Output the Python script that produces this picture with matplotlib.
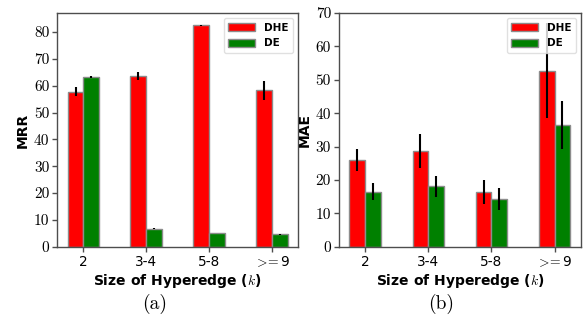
import numpy as np
import matplotlib
matplotlib.use('Agg')
import matplotlib.pyplot as plt

plt.rcParams['mathtext.fontset'] = 'cm'

# Data
sizes = ['2', '3-4', '5-8', r'$>\!\!=$9']
mrr_dhe = [57.8, 63.7, 82.4, 58.2]
mrr_dhe_err = [1.8, 1.5, 0.3, 3.4]
mrr_de = [63.3, 6.8, 5.1, 4.7]
mrr_de_err = [0.3, 0.2, 0.1, 0.1]
mae_dhe = [26.0, 28.7, 16.4, 52.8]
mae_dhe_err = [3.4, 5.2, 3.6, 14.1]
mae_de = [16.5, 18.1, 14.3, 36.5]
mae_de_err = [2.5, 3.1, 3.2, 7.3]

fig = plt.figure(figsize=(5.84, 3.27), dpi=100)
ax1 = fig.add_axes([0.0976, 0.245, 0.413, 0.715])
ax2 = fig.add_axes([0.580, 0.245, 0.415, 0.715])

x = np.arange(len(sizes))
w = 0.25


def draw(ax, dhe, dhe_err, de, de_err, ylabel, yticks, ymax):
    ax.bar(x - w / 2, dhe, w, yerr=dhe_err, color='red', edgecolor='0.55',
           linewidth=1, label='DHE', error_kw=dict(ecolor='black', elinewidth=1.5, capsize=0))
    ax.bar(x + w / 2, de, w, yerr=de_err, color='green', edgecolor='0.55',
           linewidth=1, label='DE', error_kw=dict(ecolor='black', elinewidth=1.5, capsize=0))
    ax.set_xlim(-0.42, 3.42)
    ax.set_ylim(0, ymax)
    ax.set_yticks(yticks)
    ax.set_yticklabels([str(t) for t in yticks], fontsize=11, family='cmr10')
    ax.set_xticks(x)
    ax.set_xticklabels(sizes, fontsize=9.8)
    ax.set_ylabel(ylabel, fontsize=10, fontweight='bold', labelpad=3)
    ax.set_xlabel(r'Size of Hyperedge ($k$)', fontsize=10, fontweight='bold', labelpad=2)
    for s in ax.spines.values():
        s.set_color('0.3')
        s.set_linewidth(1)
    ax.tick_params(length=3.5, width=1, color='0.3', pad=2)
    leg = ax.legend(loc='upper right', prop=dict(size=7.5, weight='bold'),
                    handlelength=2.6, handleheight=0.8, borderpad=0.45,
                    labelspacing=0.5, fancybox=True)
    leg.get_frame().set_edgecolor('0.85')


draw(ax1, mrr_dhe, mrr_dhe_err, mrr_de, mrr_de_err, 'MRR', list(range(0, 81, 10)), 87)
draw(ax2, mae_dhe, mae_dhe_err, mae_de, mae_de_err, 'MAE', list(range(0, 71, 10)), 70)

fig.text(0.265, 0.04, '(a)', fontsize=14, family='cmr10', ha='center', va='bottom')
fig.text(0.755, 0.04, '(b)', fontsize=14, family='cmr10', ha='center', va='bottom')

fig.savefig('out.png', dpi=100)
